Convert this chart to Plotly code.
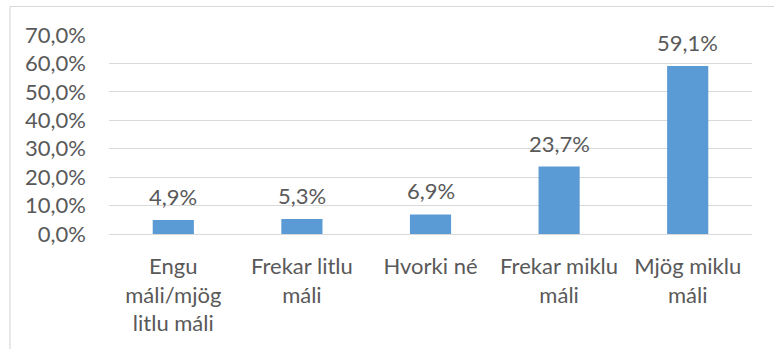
import plotly.graph_objects as go

categories = ["Engu<br>máli/mjög<br>litlu máli", "Frekar litlu<br>máli", "Hvorki né",
              "Frekar miklu<br>máli", "Mjög miklu<br>máli"]
values = [4.9, 5.3, 6.9, 23.7, 59.1]
value_labels = ["4,9%", "5,3%", "6,9%", "23,7%", "59,1%"]
tick_values = [0, 10, 20, 30, 40, 50, 60, 70]
tick_labels = ["0,0%", "10,0%", "20,0%", "30,0%", "40,0%", "50,0%", "60,0%", "70,0%"]

TEXT = "#595959"
GRID = "#D9D9D9"
FONT = "Lato"
FS = 22

fig = go.Figure()
fig.add_trace(go.Bar(
    x=list(range(len(categories))), y=values,
    marker=dict(color="#5B9BD5", line=dict(width=0)),
    width=0.32,
    hoverinfo="skip",
))

for i, (v, lab) in enumerate(zip(values, value_labels)):
    fig.add_annotation(x=i, y=v, text=lab, showarrow=False,
                       yanchor="bottom", yshift=8,
                       font=dict(family=FONT, size=FS, color=TEXT))

W, H = 774, 349
L, R, T, B = 109, 22, 35, 115
pw, ph = W - L - R, H - T - B

def px_x(p):
    return (p - L) / pw

def px_y(p):
    return (H - B - p) / ph

# outer chart frame (top and left edges visible)
fig.add_shape(type="line", xref="paper", yref="paper",
              x0=px_x(10), x1=px_x(W + 5), y0=px_y(6.5), y1=px_y(6.5),
              line=dict(color=GRID, width=1.2))
fig.add_shape(type="line", xref="paper", yref="paper",
              x0=px_x(10), x1=px_x(10), y0=px_y(6.5), y1=px_y(H + 5),
              line=dict(color=GRID, width=1.2))

fig.update_layout(
    width=W, height=H,
    margin=dict(l=L, r=R, t=T, b=B),
    paper_bgcolor="white", plot_bgcolor="white",
    showlegend=False,
    font=dict(family=FONT, size=FS, color=TEXT),
    xaxis=dict(
        tickmode="array", tickvals=list(range(len(categories))), ticktext=categories,
        range=[-0.5, len(categories) - 0.5],
        showgrid=False, zeroline=False, showline=False, ticks="",
        tickfont=dict(family=FONT, size=FS, color=TEXT),
        ticklabelstandoff=17,
    ),
    yaxis=dict(
        range=[0, 70], tickmode="array", tickvals=tick_values, ticktext=tick_labels,
        showgrid=True, gridcolor=GRID, gridwidth=1.3,
        zeroline=True, zerolinecolor=GRID, zerolinewidth=1.3,
        showline=False, ticks="",
        tickfont=dict(family=FONT, size=FS, color=TEXT),
        ticklabelstandoff=22,
    ),
)

fig.write_html("out.html")
